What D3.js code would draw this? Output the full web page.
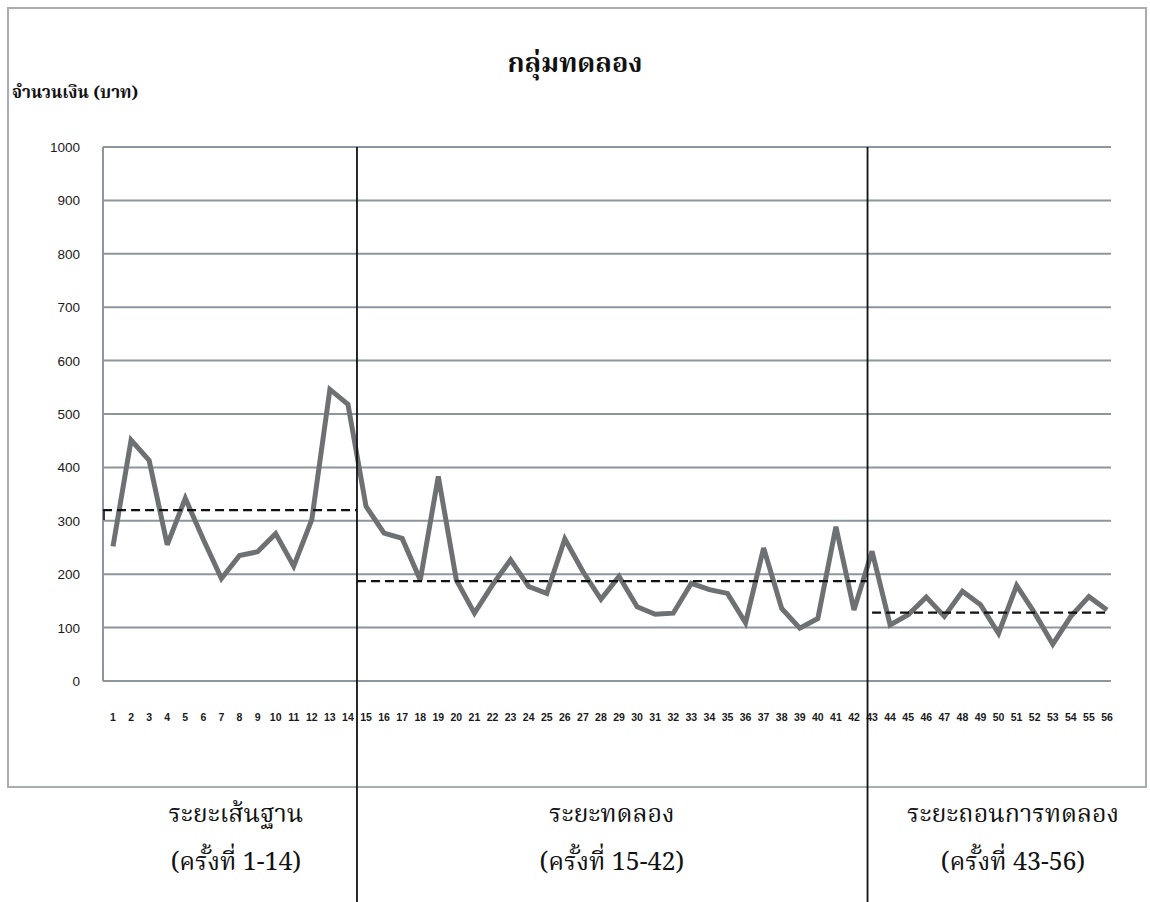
<!DOCTYPE html>
<html>
<head>
<meta charset="utf-8">
<script src="https://cdn.jsdelivr.net/npm/d3@7"></script>
<style>
  html, body { margin: 0; padding: 0; background: #fff; }
  svg { display: block; }
</style>
</head>
<body>
<svg id="chart" width="1150" height="902"></svg>
<script>
// ---------- data ----------
const sessions = ["1","2","3","4","5","6","7","8","9","10","11","12","13","14",
  "15","16","17","18","19","20","21","22","23","24","25","26","27","28","29","30",
  "31","32","33","34","35","36","37","38","39","40","41","42",
  "43","44","45","46","47","48","49","50","51","52","53","54","55","56"];
const amounts = [252,451,413,255,342,265,192,235,242,276,215,302,546,518,
  327,277,267,189,383,189,127,180,227,177,164,266,205,153,196,139,125,127,183,171,164,109,249,136,99,117,289,133,
  243,105,124,157,121,168,143,89,179,127,69,121,158,133];
const yTicks = [0,100,200,300,400,500,600,700,800,900,1000];
const phaseNames = ["ระยะเส้นฐาน","ระยะทดลอง","ระยะถอนการทดลอง"];
const phaseRanges = ["(ครั้งที่ 1-14)","(ครั้งที่ 15-42)","(ครั้งที่ 43-56)"];
const phaseMeans = [320,187,128];
const meanFrom = [0.45,14.5,43];
const meanTo = [14.5,42.75,56];
const phaseBoundaries = [14.5,42.75];
const phaseCenters = [7.8,28.6,50.8];
const titleText = "กลุ่มทดลอง";
const yLabel = "จำนวนเงิน (บาท)";

// ---------- layout ----------
const svg = d3.select("#chart");
const plotLeft = 103, plotRight = 1111;
const x = d3.scaleLinear().domain([1,56]).range([113,1107]);
const y = d3.scaleLinear().domain([0,1000]).range([681,147]);
const thai = "'Noto Serif Thai','Norasi','Laksaman','Noto Sans Thai','Loma','DejaVu Serif',serif";
const thaiSerif = "'Noto Serif Thai','Norasi','Laksaman','Noto Sans Thai','Loma','DejaVu Serif',serif";

// outer frame
svg.append("rect").attr("x",8).attr("y",8).attr("width",1138).attr("height",779)
  .attr("fill","none").attr("stroke","#a9adb2").attr("stroke-width",2);

// gridlines
svg.append("g").selectAll("line").data(yTicks).join("line")
  .attr("x1",plotLeft).attr("x2",plotRight)
  .attr("y1",d=>y(d)).attr("y2",d=>y(d))
  .attr("stroke","#8d959d").attr("stroke-width",2);
// left axis line
svg.append("line").attr("x1",plotLeft).attr("x2",plotLeft)
  .attr("y1",y(1000)).attr("y2",y(0)).attr("stroke","#8d959d").attr("stroke-width",2);

// y tick labels
svg.append("g").selectAll("text").data(yTicks).join("text")
  .attr("x",80).attr("y",d=>y(d)+5)
  .attr("text-anchor","end")
  .attr("font-family","Arial, 'Liberation Sans', sans-serif")
  .attr("font-size",13.5).attr("fill","#1a1a1a")
  .text(d=>d);

// x tick labels
svg.append("g").selectAll("text").data(sessions).join("text")
  .attr("x",(d,i)=>x(i+1)).attr("y",721)
  .attr("text-anchor","middle")
  .attr("font-family","'Liberation Sans Narrow', Arial, sans-serif")
  .attr("font-size",10.5).attr("font-weight","bold").attr("fill","#1a1a1a")
  .text(d=>d);

// data line
const line = d3.line().x((d,i)=>x(i+1)).y(d=>y(d));
svg.append("path").datum(amounts).attr("d",line)
  .attr("fill","none").attr("stroke","#6e7174").attr("stroke-width",5)
  .attr("stroke-linejoin","miter").attr("stroke-miterlimit",3);

// phase means (dashed)
svg.append("g").selectAll("line").data(phaseMeans).join("line")
  .attr("x1",(d,i)=>x(meanFrom[i])).attr("x2",(d,i)=>x(meanTo[i]))
  .attr("y1",d=>y(d)).attr("y2",d=>y(d))
  .attr("stroke","#111").attr("stroke-width",2.2).attr("stroke-dasharray","9,5");
// small end tick at the start of the baseline mean
svg.append("line").attr("x1",x(meanFrom[0])+1).attr("x2",x(meanFrom[0])+1)
  .attr("y1",y(phaseMeans[0])).attr("y2",y(phaseMeans[0])+10)
  .attr("stroke","#111").attr("stroke-width",1.5);

// phase boundaries
svg.append("g").selectAll("line").data(phaseBoundaries).join("line")
  .attr("x1",d=>x(d)).attr("x2",d=>x(d))
  .attr("y1",y(1000)).attr("y2",902)
  .attr("stroke","#111").attr("stroke-width",1.8);

// title
svg.append("text").attr("x",575).attr("y",72).attr("text-anchor","middle")
  .attr("font-family",thai).attr("font-size",27).attr("font-weight","bold").attr("fill","#111")
  .text(titleText);
// y label
svg.append("text").attr("x",12).attr("y",98)
  .attr("font-family",thai).attr("font-size",17).attr("font-weight","bold").attr("fill","#111")
  .text(yLabel);

// phase labels
svg.append("g").selectAll("text").data(phaseNames).join("text")
  .attr("x",(d,i)=>x(phaseCenters[i])).attr("y",822).attr("text-anchor","middle")
  .attr("font-family",thaiSerif).attr("font-size",25).attr("fill","#111")
  .text(d=>d);
svg.append("g").selectAll("text").data(phaseRanges).join("text")
  .attr("x",(d,i)=>x(phaseCenters[i])).attr("y",870).attr("text-anchor","middle")
  .attr("font-family",thaiSerif).attr("font-size",25).attr("fill","#111")
  .text(d=>d);
</script>
</body>
</html>
